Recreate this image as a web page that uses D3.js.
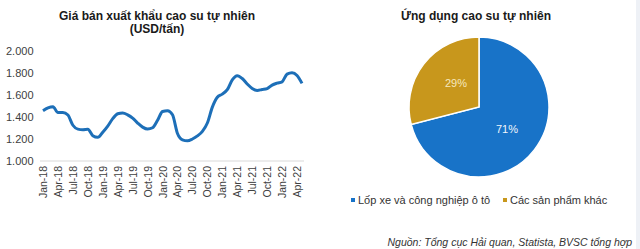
<!DOCTYPE html>
<html>
<head>
<meta charset="utf-8">
<script src="https://cdn.jsdelivr.net/npm/d3@7"></script>
<style>
  body { margin: 0; background: #fff; }
  svg { display: block; font-family: "Liberation Sans", Arial, sans-serif; }
</style>
</head>
<body>
<svg id="chart" width="640" height="249"></svg>
<script>
// monthly export price, Jan-18 .. May-22 (USD/tan)
var months = [];
var monthNames = ["Jan","Feb","Mar","Apr","May","Jun","Jul","Aug","Sep","Oct","Nov","Dec"];
for (var yr = 18; yr <= 22; yr++) {
  for (var m = 0; m < 12; m++) {
    if (yr == 22 && m > 4) break;
    months.push(monthNames[m] + "-" + yr);
  }
}
var prices = [1457, 1483, 1494, 1440, 1442, 1418, 1325, 1290, 1285, 1288, 1230, 1215,
              1262, 1318, 1385, 1430, 1437, 1420, 1390, 1345, 1308, 1290, 1302, 1370,
              1450, 1457, 1420, 1250, 1193, 1184, 1200, 1228, 1270, 1345, 1490, 1580,
              1608, 1648, 1738, 1776, 1750, 1700, 1660, 1642, 1650, 1658, 1690, 1708,
              1720, 1790, 1803, 1778, 1706];
var yTicks = [1000, 1200, 1400, 1600, 1800, 2000];

var pieLabels = ["Lốp xe và công nghiệp ô tô", "Các sản phẩm khác"];
var pieValues = [71, 29];
var pieColors = ["#1873c8", "#c8971c"];

var svg = d3.select("#chart");

// right edge strip
svg.append("rect").attr("x", 636).attr("y", 0).attr("width", 4).attr("height", 249).attr("fill", "#eef1f6");

// ---- line chart ----
var x = d3.scalePoint().domain(months).range([43, 302]);
var y = d3.scaleLinear().domain([1000, 2000]).range([161, 51]);

svg.append("text").attr("x", 157).attr("y", 20).attr("text-anchor", "middle")
  .attr("font-size", "12px").attr("font-weight", "bold").attr("fill", "#1a1a1a")
  .text("Giá bán xuất khẩu cao su tự nhiên");
svg.append("text").attr("x", 157).attr("y", 33).attr("text-anchor", "middle")
  .attr("font-size", "12px").attr("font-weight", "bold").attr("fill", "#1a1a1a")
  .text("(USD/tấn)");

svg.selectAll("text.ytick")
  .data(yTicks)
  .enter().append("text")
  .attr("class", "ytick")
  .attr("x", 6)
  .attr("y", function(d){ return y(d) + 4; })
  .attr("font-size", "11px")
  .attr("fill", "#404040")
  .text(function(d){ return d3.format(",")(d).replace(",", "."); });

svg.append("line").attr("x1", 40).attr("x2", 304)
  .attr("y1", y(1000)).attr("y2", y(1000))
  .attr("stroke", "#d9d9d9").attr("stroke-width", 1);

var tickMonths = months.filter(function(d, i){ return i % 3 == 0; });
svg.selectAll("text.xtick")
  .data(tickMonths)
  .enter().append("text")
  .attr("class", "xtick")
  .attr("transform", function(d){ return "translate(" + (x(d) + 4) + "," + 166 + ") rotate(-90)"; })
  .attr("text-anchor", "end")
  .attr("font-size", "10.5px")
  .attr("fill", "#404040")
  .text(function(d){ return d; });

var line = d3.line()
  .x(function(d, i){ return x(months[i]); })
  .y(function(d){ return y(d); })
  .curve(d3.curveMonotoneX);

svg.append("path")
  .datum(prices)
  .attr("d", line)
  .attr("fill", "none")
  .attr("stroke", "#1d6fb8")
  .attr("stroke-width", 3)
  .attr("stroke-linejoin", "round");

// ---- pie chart ----
svg.append("text").attr("x", 476).attr("y", 20).attr("text-anchor", "middle")
  .attr("font-size", "12px").attr("font-weight", "bold").attr("fill", "#1a1a1a")
  .text("Ứng dụng cao su tự nhiên");

var cx = 479, cy = 107, r = 70;
var pie = d3.pie().sort(null).value(function(d){ return d; });
var arc = d3.arc().innerRadius(0).outerRadius(r);
var arcs = pie(pieValues);
var g = svg.append("g").attr("transform", "translate(" + cx + "," + cy + ")");
g.selectAll("path")
  .data(arcs)
  .enter().append("path")
  .attr("d", arc)
  .attr("fill", function(d, i){ return pieColors[i]; })
  .attr("stroke", "#fff")
  .attr("stroke-width", 1.5);

var labelPos = [[28, 22], [-23, -24]];
g.selectAll("text")
  .data(arcs)
  .enter().append("text")
  .attr("x", function(d, i){ return labelPos[i][0]; })
  .attr("y", function(d, i){ return labelPos[i][1] + 4; })
  .attr("text-anchor", "middle")
  .attr("font-size", "11px")
  .attr("fill", function(d, i){ return i == 0 ? "#f2f6fb" : "#f6e8bd"; })
  .text(function(d){ return d.data + "%"; });

// legend
var legX = [351, 503];
var leg = svg.selectAll("g.leg")
  .data(pieLabels)
  .enter().append("g")
  .attr("class", "leg")
  .attr("transform", function(d, i){ return "translate(" + legX[i] + ",200)"; });
leg.append("rect").attr("x", 0).attr("y", -2).attr("width", 4).attr("height", 4)
  .attr("fill", function(d, i){ return pieColors[i]; });
leg.append("text").attr("x", 7).attr("y", 4)
  .attr("font-size", "11px").attr("fill", "#333")
  .text(function(d){ return d; });

svg.append("text").attr("x", 632).attr("y", 246).attr("text-anchor", "end")
  .attr("font-size", "10.5px").attr("font-style", "italic").attr("fill", "#333")
  .text("Nguồn: Tổng cục Hải quan, Statista, BVSC tổng hợp");
</script>
</body>
</html>
